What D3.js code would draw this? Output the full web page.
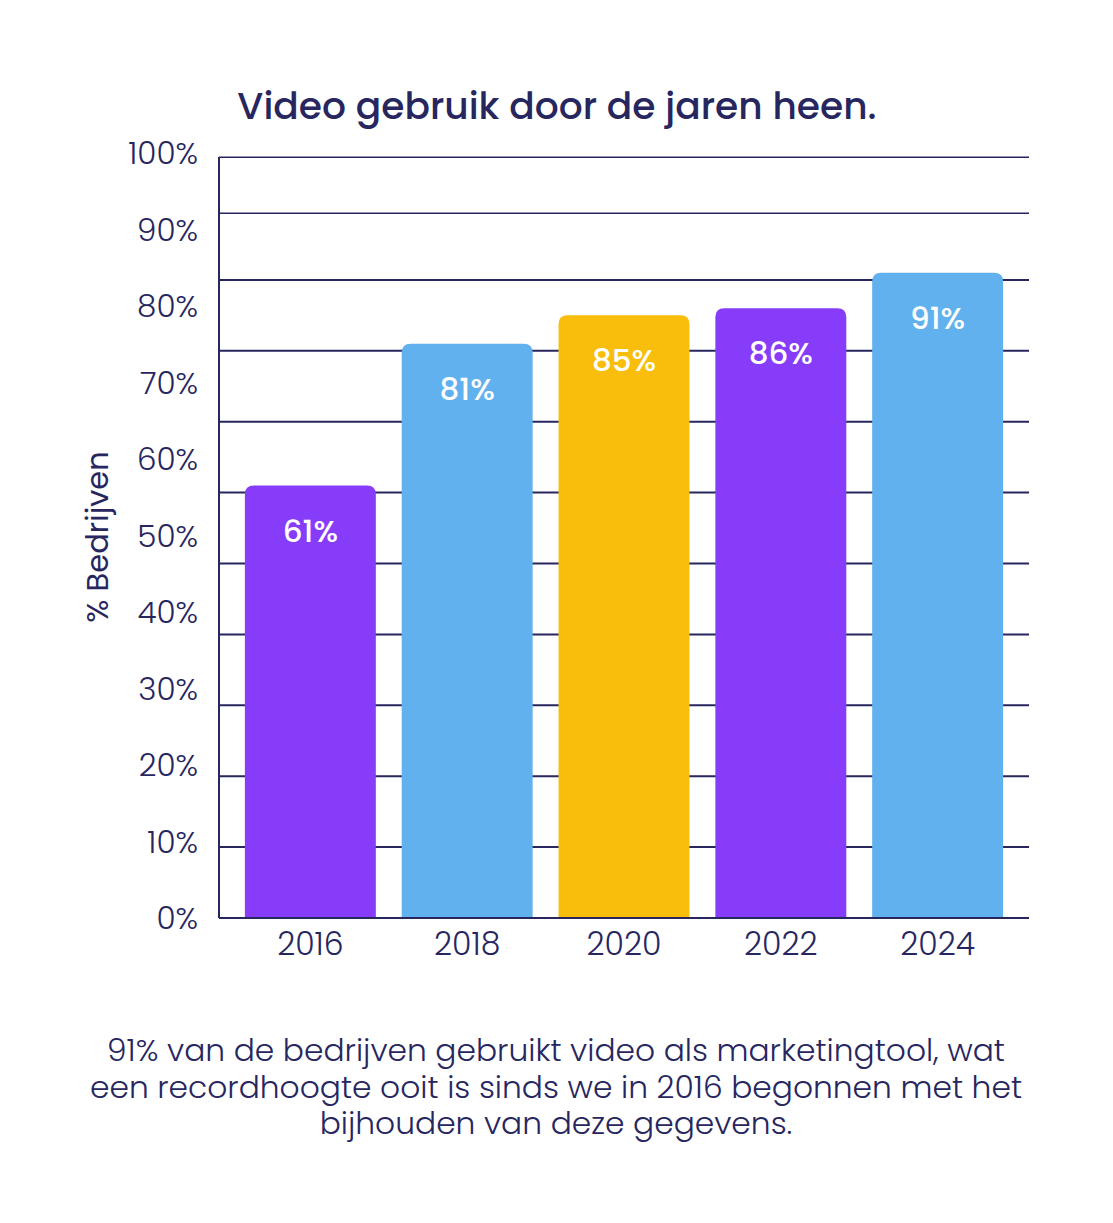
<!DOCTYPE html>
<html>
<head>
<meta charset="utf-8">
<script src="https://cdn.jsdelivr.net/npm/d3@7"></script>
<style>
  html, body { margin: 0; padding: 0; background: #ffffff; }
  svg { display: block; }
</style>
</head>
<body>
<script>
// chart values
const years = ["2016", "2018", "2020", "2022", "2024"];
const values = [61, 81, 85, 86, 91];
const barColors = ["#873CFA", "#61B1EE", "#F9BE0B", "#873CFA", "#61B1EE"];
const tickLabels = [0, 10, 20, 30, 40, 50, 60, 70, 80, 90, 100];
// gridlines in bar units (the source chart's grid does not line up with its labels)
const gridValues = [0, 10, 20, 30, 40, 50, 60, 70, 80, 90, 99.4, 107.3];
const title = "Video gebruik door de jaren heen.";
const yTitle = "% Bedrijven";
const footnote = [
  "91% van de bedrijven gebruikt video als marketingtool, wat",
  "een recordhoogte ooit is sinds we in 2016 begonnen met het",
  "bijhouden van deze gegevens."
];

const width = 1113;
const height = 1223;
const plotLeft = 219, plotRight = 1029, plotBottom = 918, plotTop = 157;
const navy = "#27265F";
const font = "Poppins, Inter, 'Open Sans', sans-serif";

const svg = d3.select("body").append("svg")
  .attr("width", width)
  .attr("height", height)
  .attr("font-family", font);

const x = d3.scaleBand()
  .domain(years)
  .range([plotLeft, plotRight])
  .padding(0.165);

const yBar = d3.scaleLinear().domain([0, 100]).range([plotBottom, 209]);
const yTick = d3.scaleLinear().domain([0, 100]).range([plotBottom, 153]);

// gridlines
svg.append("g")
  .selectAll("line")
  .data(gridValues)
  .enter()
  .append("line")
  .attr("x1", plotLeft)
  .attr("x2", plotRight)
  .attr("y1", d => yBar(d))
  .attr("y2", d => yBar(d))
  .attr("stroke", navy)
  .attr("stroke-width", d => d > 95 ? 1.6 : 2);

// bars with rounded top corners
const r = 9;
function barPath(x0, w, y0, y1) {
  return `M${x0},${y1}V${y0 + r}Q${x0},${y0} ${x0 + r},${y0}H${x0 + w - r}Q${x0 + w},${y0} ${x0 + w},${y0 + r}V${y1}Z`;
}

const data = years.map((yr, i) => ({ year: yr, value: values[i], color: barColors[i] }));

svg.append("g")
  .selectAll("path")
  .data(data)
  .enter()
  .append("path")
  .attr("d", d => barPath(x(d.year), x.bandwidth(), yBar(d.value), yBar(0)))
  .attr("fill", d => d.color);

// value labels inside bars
svg.append("g")
  .selectAll("text")
  .data(data)
  .enter()
  .append("text")
  .attr("x", d => x(d.year) + x.bandwidth() / 2)
  .attr("y", d => yBar(d.value) + 45)
  .attr("text-anchor", "middle")
  .attr("dominant-baseline", "central")
  .attr("fill", "#ffffff")
  .attr("font-size", 31)
  .attr("font-weight", 500)
  .text(d => d.value + "%");

// axis lines
svg.append("line")
  .attr("x1", plotLeft).attr("x2", plotLeft)
  .attr("y1", plotTop).attr("y2", plotBottom)
  .attr("stroke", navy).attr("stroke-width", 2);
svg.append("line")
  .attr("x1", plotLeft).attr("x2", plotRight)
  .attr("y1", plotBottom).attr("y2", plotBottom)
  .attr("stroke", navy).attr("stroke-width", 2);

// y tick labels
svg.append("g")
  .selectAll("text")
  .data(tickLabels)
  .enter()
  .append("text")
  .attr("x", 198)
  .attr("y", d => yTick(d))
  .attr("text-anchor", "end")
  .attr("dominant-baseline", "central")
  .attr("fill", navy)
  .attr("font-size", 31)
  .attr("font-weight", 300)
  .text(d => d + "%");

// x labels
svg.append("g")
  .selectAll("text")
  .data(years)
  .enter()
  .append("text")
  .attr("x", d => x(d) + x.bandwidth() / 2)
  .attr("y", 944)
  .attr("text-anchor", "middle")
  .attr("dominant-baseline", "central")
  .attr("fill", navy)
  .attr("font-size", 31.5)
  .attr("font-weight", 300)
  .text(d => d);

// y axis title
svg.append("text")
  .attr("transform", "translate(97,537) rotate(-90)")
  .attr("text-anchor", "middle")
  .attr("dominant-baseline", "central")
  .attr("fill", navy)
  .attr("font-size", 30.5)
  .attr("font-weight", 400)
  .text(yTitle);

// title
svg.append("text")
  .attr("x", 557)
  .attr("y", 119)
  .attr("text-anchor", "middle")
  .attr("fill", navy)
  .attr("font-size", 37.6)
  .attr("font-weight", 500)
  .text(title);

// footnote
svg.append("g")
  .selectAll("text")
  .data(footnote)
  .enter()
  .append("text")
  .attr("x", 556)
  .attr("y", (d, i) => 1061 + i * 36.5)
  .attr("text-anchor", "middle")
  .attr("fill", navy)
  .attr("font-size", 31.3)
  .attr("font-weight", 300)
  .text(d => d);
</script>
</body>
</html>
